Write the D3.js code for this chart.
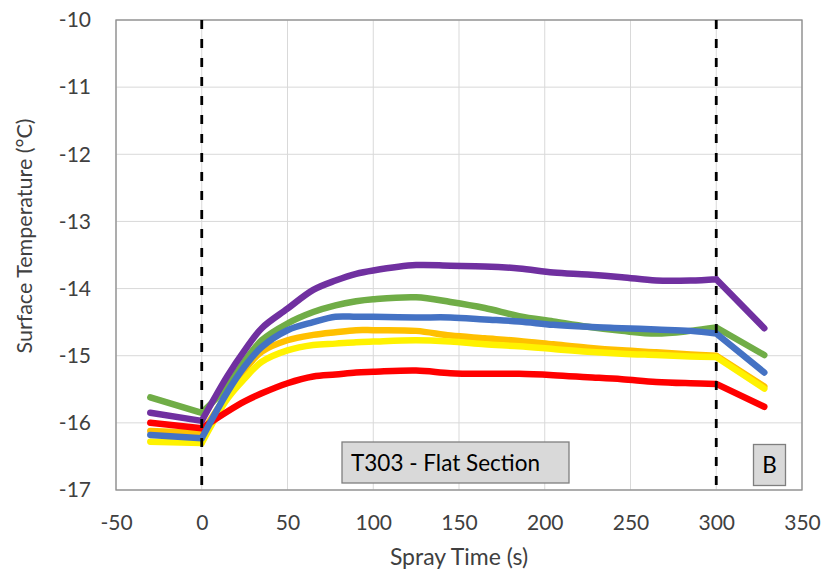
<!DOCTYPE html>
<html>
<head>
<meta charset="utf-8">
<script src="https://cdn.jsdelivr.net/npm/d3@7"></script>
<style>
  html, body { margin: 0; padding: 0; background: #fff; }
  svg { display: block; font-family: Lato, "Open Sans", sans-serif; }
</style>
</head>
<body>
<svg id="chart" width="824" height="570"></svg>
<script>
// ---- data ----
const time = [-30, 0, 15, 25, 35, 50, 65, 78, 90, 100, 125, 145, 165, 185, 205, 225, 245, 265, 285, 300, 328];
const orange = [-16.12, -16.15, -15.57, -15.21, -14.94, -14.77, -14.69, -14.65, -14.62, -14.62, -14.63, -14.70, -14.74, -14.78, -14.83, -14.88, -14.92, -14.95, -14.98, -15.00, -15.46];
const yellow = [-16.28, -16.30, -15.64, -15.34, -15.09, -14.92, -14.84, -14.82, -14.80, -14.79, -14.77, -14.79, -14.83, -14.86, -14.90, -14.94, -14.97, -14.99, -15.01, -15.02, -15.49];
const red    = [-16.00, -16.08, -15.83, -15.68, -15.56, -15.41, -15.31, -15.28, -15.25, -15.24, -15.22, -15.26, -15.27, -15.27, -15.29, -15.32, -15.35, -15.39, -15.41, -15.42, -15.76];
const green  = [-15.62, -15.85, -15.45, -15.08, -14.77, -14.52, -14.35, -14.25, -14.19, -14.16, -14.13, -14.20, -14.29, -14.41, -14.49, -14.57, -14.63, -14.67, -14.63, -14.58, -14.99];
const purple = [-15.85, -15.97, -15.30, -14.92, -14.59, -14.30, -14.02, -13.88, -13.78, -13.73, -13.65, -13.66, -13.67, -13.70, -13.76, -13.79, -13.83, -13.88, -13.88, -13.86, -14.59];
const blue   = [-16.18, -16.23, -15.54, -15.16, -14.87, -14.62, -14.50, -14.42, -14.42, -14.42, -14.43, -14.43, -14.46, -14.49, -14.54, -14.57, -14.59, -14.61, -14.63, -14.67, -15.25];
const xTicks = [-50, 0, 50, 100, 150, 200, 250, 300, 350];
const yTicks = [-10, -11, -12, -13, -14, -15, -16, -17];
const markers = [0, 300];
const xTitle = "Spray Time (s)";
const yTitle = "Surface Temperature (°C)";
const label1 = "T303 - Flat Section";
const label2 = "B";

const series = [
  {values: orange, color: "#FFC000"},
  {values: yellow, color: "#FFF200"},
  {values: red,    color: "#FF0000"},
  {values: green,  color: "#70AD47"},
  {values: purple, color: "#7030A0"},
  {values: blue,   color: "#4472C4"}
];

// ---- layout ----
const svg = d3.select("#chart");
const L = 116, R = 802, T = 20, B = 490;
const x = d3.scaleLinear().domain([-50, 350]).range([L, R]);
const y = d3.scaleLinear().domain([-17, -10]).range([B, T]);

// grid
svg.append("g").selectAll("line").data(yTicks).join("line")
  .attr("x1", L).attr("x2", R).attr("y1", d => y(d)).attr("y2", d => y(d))
  .attr("stroke", "#d9d9d9").attr("stroke-width", 1);
svg.append("g").selectAll("line").data(xTicks).join("line")
  .attr("y1", T).attr("y2", B).attr("x1", d => x(d)).attr("x2", d => x(d))
  .attr("stroke", "#d9d9d9").attr("stroke-width", 1);

// frame
svg.append("rect").attr("x", L).attr("y", T).attr("width", R - L).attr("height", B - T)
  .attr("fill", "none").attr("stroke", "#8c8c8c").attr("stroke-width", 1.3);

// axes labels via d3 axes
const fmt = d => String(d);
const xAxis = svg.append("g").attr("transform", `translate(0,${B})`)
  .call(d3.axisBottom(x).tickValues(xTicks).tickFormat(fmt).tickSize(0).tickPadding(25));
xAxis.select(".domain").remove();
xAxis.selectAll("text").attr("font-size", 21).attr("fill", "#404040").attr("font-family", "Lato, sans-serif");

const yAxis = svg.append("g").attr("transform", `translate(${L},0)`)
  .call(d3.axisLeft(y).tickValues(yTicks).tickFormat(fmt).tickSize(0).tickPadding(25));
yAxis.select(".domain").remove();
yAxis.selectAll("text").attr("font-size", 21).attr("fill", "#404040").attr("font-family", "Lato, sans-serif");

// axis titles
svg.append("text").attr("x", (L + R) / 2).attr("y", 565).attr("text-anchor", "middle")
  .attr("font-size", 23).attr("fill", "#404040").text(xTitle);
svg.append("text").attr("transform", "translate(32,236) rotate(-90)").attr("text-anchor", "middle")
  .attr("font-size", 21.5).attr("fill", "#404040").text(yTitle);

// series: linear before 0 and after 300, smooth in between
const iStart = time.indexOf(0), iEnd = time.indexOf(300);
const segLinear = d3.line().x(d => x(d[0])).y(d => y(d[1]));
const segSmooth = d3.line().x(d => x(d[0])).y(d => y(d[1])).curve(d3.curveCatmullRom.alpha(0.5));
function pathFor(vals) {
  const pts = time.map((t, i) => [t, vals[i]]);
  const a = segLinear(pts.slice(0, iStart + 1));
  const b = segSmooth(pts.slice(iStart, iEnd + 1));
  const c = segLinear(pts.slice(iEnd));
  return a + b + c;
}
svg.append("g").selectAll("path").data(series).join("path")
  .attr("d", s => pathFor(s.values))
  .attr("fill", "none").attr("stroke", s => s.color).attr("stroke-width", 6.5)
  .attr("stroke-linecap", "round").attr("stroke-linejoin", "round");

// dashed markers
svg.append("g").selectAll("line").data(markers).join("line")
  .attr("x1", d => x(d)).attr("x2", d => x(d)).attr("y1", T).attr("y2", B)
  .attr("stroke", "#000").attr("stroke-width", 2.8).attr("stroke-dasharray", "9,10");

// annotation boxes
const b1 = svg.append("g");
b1.append("rect").attr("x", 342).attr("y", 442).attr("width", 227).attr("height", 41)
  .attr("fill", "#d9d9d9").attr("stroke", "#7f7f7f").attr("stroke-width", 1.3);
b1.append("text").attr("x", 351).attr("y", 471).attr("font-size", 22.5).attr("fill", "#000").text(label1);

const b2 = svg.append("g");
b2.append("rect").attr("x", 753.5).attr("y", 444.5).attr("width", 32).attr("height", 41)
  .attr("fill", "#d9d9d9").attr("stroke", "#7f7f7f").attr("stroke-width", 1.3);
b2.append("text").attr("x", 769.5).attr("y", 473).attr("text-anchor", "middle").attr("font-size", 22.5).attr("fill", "#000").text(label2);
</script>
</body>
</html>
